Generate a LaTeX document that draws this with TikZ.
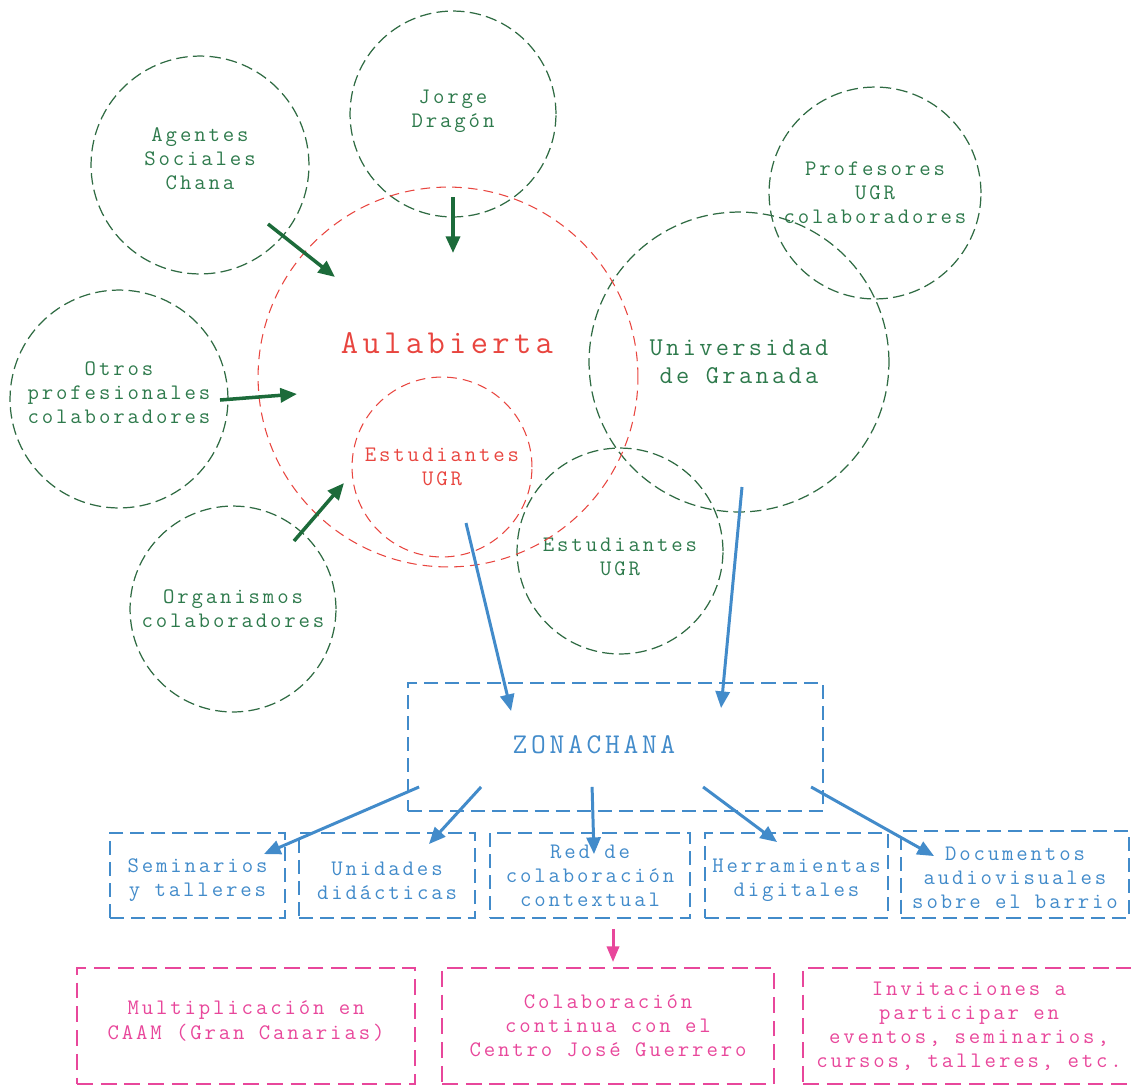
\documentclass[tikz,border=0pt]{standalone}
\usepackage{fontspec}
\setmonofont{Latin Modern Mono}[LetterSpace=13]
\usepackage{tikz}
\usetikzlibrary{arrows.meta}
\definecolor{verde}{HTML}{2F6B43}
\definecolor{verdetexto}{HTML}{2E7A4C}
\definecolor{verdeflecha}{HTML}{1C6B3A}
\definecolor{rojo}{HTML}{E8453F}
\definecolor{azul}{HTML}{428BCA}
\definecolor{rosa}{HTML}{E8479B}
\newcommand{\letrachica}{\ttfamily\fontsize{12.6}{13.7}\selectfont}
\newcommand{\letramedia}{\ttfamily\fontsize{14.6}{15.9}\selectfont}
\newcommand{\letrazona}{\ttfamily\fontsize{16.3}{17}\selectfont}
\newcommand{\letragrande}{\ttfamily\fontsize{19.1}{20}\selectfont}

\begin{document}
\begin{tikzpicture}[
                x = 0.02cm, y = -0.02cm,
                C/.style = {circle, draw=verde, line width=0.7pt, dash pattern=on 6.5pt off 3pt,
                            text=verdetexto, inner sep=0pt, align=center, font=\letrachica,
                            minimum size=#1*0.04cm},
                R/.style = {circle, draw=rojo, line width=0.6pt, dash pattern=on 5.5pt off 3.5pt,
                            text=rojo, inner sep=0pt, align=center, font=\letrachica,
                            minimum size=#1*0.04cm},
                B/.style = {rectangle, draw=azul, line width=1.1pt, dash pattern=on 8pt off 4pt,
                            text=azul, inner sep=0pt, align=center, font=\letrachica,
                            minimum height=1.7cm, minimum width=#1},
                P/.style = {rectangle, draw=rosa, line width=1.1pt, dash pattern=on 9pt off 4.5pt,
                            text=rosa, inner sep=0pt, align=center, font=\letrachica,
                            minimum height=2.32cm, minimum width=#1},
                T/.style = {align=center, inner sep=0pt, font=\letrachica, text=#1},
                flechaverde/.style = {-{Triangle[length=9.5pt,width=8pt]}, line width=2pt, draw=verdeflecha},
                flechaazul/.style = {-{Triangle[length=9.5pt,width=8pt]}, line width=1.7pt, draw=azul},
                flecharosa/.style = {-{Triangle[length=9pt,width=7pt]}, line width=1.7pt, draw=rosa}
                    ]
                \useasboundingbox (0,0) rectangle (1131,1086);
                % circulos
                \node (agentes) [C=109, label={[T=verdetexto, yshift=0.12cm]center:Agentes\\Sociales\\Chana}] at (200,165) {};
                \node (jorge) [C=103, label={[T=verdetexto, yshift=0.06cm]center:Jorge\\Dragón}] at (453,114) {};
                \node (profes) [C=106] at (875,193) {Profesores\\UGR\\colaboradores};
                \node (otros) [C=109, label={[T=verdetexto, yshift=0.12cm]center:Otros\\profesionales\\colaboradores}] at (119,399) {};
                \node (ugr) [C=150, font=\letramedia] at (739,362) {Universidad\\de Granada};
                \node (estverde) [C=103, label={[T=verdetexto, yshift=-0.12cm]center:Estudiantes\\UGR}] at (620,551) {};
                \node (organismos) [C=103] at (233,609) {Organismos\\colaboradores};
                \node (aula) [R=190] at (448,377) {};
                \node (aulatit) [text=rojo, font=\letragrande] at (447,343) {Aulabierta};
                \node (estrojo) [R=90] at (442,467) {Estudiantes\\UGR};
                % cajas
                \node (zona) [B=8.3cm, minimum height=2.56cm] at (615.5,747) {};
                \node (zonatit) [text=azul, font=\letrazona] at (594,745) {ZONACHANA};
                \node (sem) [B=3.5cm, label={[T=azul, yshift=-0.1cm]center:Seminarios\\y talleres}] at (197.5,875.5) {};
                \node (unid) [B=3.52cm, label={[T=azul, yshift=-0.1cm]center:Unidades\\didácticas}] at (387,875.5) {};
                \node (redcol) [B=4cm] at (590,875.5) {Red de\\colaboración\\contextual};
                \node (herr) [B=3.66cm, label={[T=azul, yshift=-0.1cm]center:Herramientas\\digitales}] at (796.5,875.5) {};
                \node (docs) [B=4.56cm, minimum height=1.74cm, label={[T=azul, yshift=-0.06cm]center:Documentos\\audiovisuales\\sobre el barrio}] at (1015,874.5) {};
                \node (mult) [P=6.76cm, label={[T=rosa, yshift=0.1cm]center:Multiplicación en\\CAAM (Gran Canarias)}] at (246,1026) {};
                \node (colab) [P=6.64cm] at (608,1026) {Colaboración\\continua con el\\Centro José Guerrero};
                \node (invit) [P=6.64cm] at (969,1026) {Invitaciones a\\participar en\\eventos, seminarios,\\cursos, talleres, etc.};
                % flechas
                \draw[flechaverde] ([shift={(68,59)}]agentes.center) -- ([shift={(-113,-100)}]aula.center);
                \draw[flechaverde] ([shift={(0,83)}]jorge.center) -- ([shift={(5,-124)}]aula.center);
                \draw[flechaverde] ([shift={(101,1)}]otros.center) -- ([shift={(-151,17)}]aula.center);
                \draw[flechaverde] ([shift={(61,-68)}]organismos.center) -- ([shift={(-98,16)}]estrojo.center);
                \draw[flechaazul] ([shift={(24,56)}]estrojo.center) -- ([shift={(104,29)}]zona.north west);
                \draw[flechaazul] ([shift={(3,125)}]ugr.center) -- ([shift={(314,26)}]zona.north west);
                \draw[flechaazul] ([shift={(12,-25)}]zona.south west) -- ([shift={(-22,22)}]sem.north east);
                \draw[flechaazul] ([shift={(74,-25)}]zona.south west) -- ([shift={(-47,12)}]unid.north east);
                \draw[flechaazul] ([shift={(185,-25)}]zona.south west) -- ([shift={(4,22)}]redcol.north);
                \draw[flechaazul] ([shift={(296,-25)}]zona.south west) -- ([shift={(73,10)}]herr.north west);
                \draw[flechaazul] ([shift={(404,-25)}]zona.south west) -- ([shift={(34,26)}]docs.north west);
                \draw[flecharosa] ([shift={(23,10)}]redcol.south) -- ([shift={(5,-5)}]colab.north);
            \end{tikzpicture}
\end{document}
